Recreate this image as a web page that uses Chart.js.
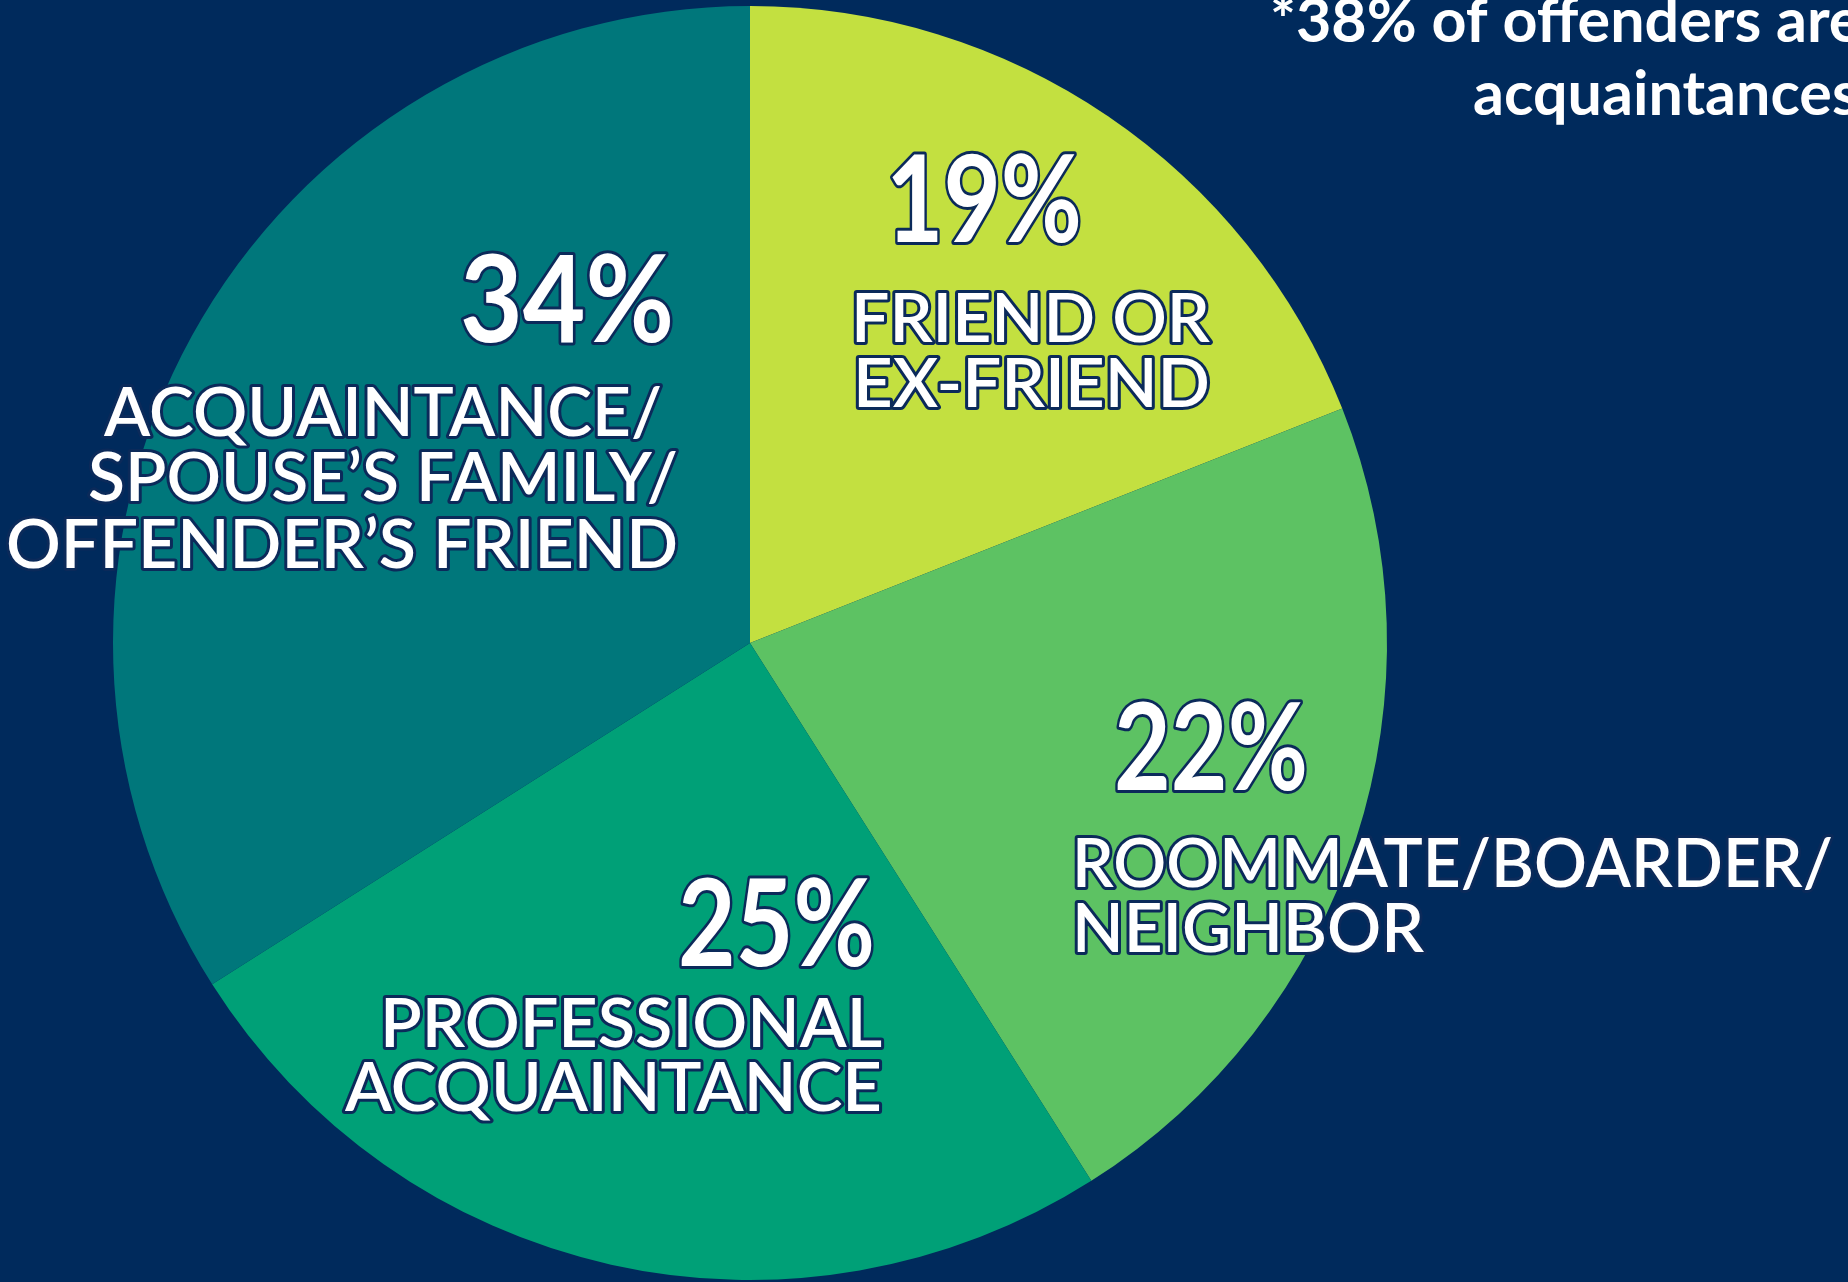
<!DOCTYPE html>
<html>
<head>
<meta charset="utf-8">
<script src="https://cdn.jsdelivr.net/npm/chart.js@4.4.1/dist/chart.umd.min.js"></script>
<style>
  html, body { margin: 0; padding: 0; background: #002a5c; }
  #wrap { width: 1848px; height: 1282px; position: relative; }
</style>
</head>
<body>
<div id="wrap"><canvas id="c" width="1848" height="1282"></canvas></div>
<script>
// ---- data ----
const categories = ['Friend or ex-friend', 'Roommate/boarder/neighbor', 'Professional acquaintance', "Acquaintance/spouse's family/offender's friend"];
const shares = [19, 22, 25, 34];
const sliceColors = ['#c3e040', '#5dc263', '#00a077', '#00777b'];
const categoryLines = [
  ['FRIEND OR', 'EX-FRIEND'],
  ['ROOMMATE/BOARDER/', 'NEIGHBOR'],
  ['PROFESSIONAL', 'ACQUAINTANCE'],
  ['ACQUAINTANCE/', 'SPOUSE\u2019S FAMILY/', 'OFFENDER\u2019S FRIEND']
];
const noteLines = ['*38% of offenders are', 'acquaintances'];

// ---- label layout, in a reference frame where the pie center is (750,643) and radius 637 ----
const REF = { cx: 750, cy: 643, r: 637 };
const pctBoxes = [
  { l: 886, r: 1082, b: 242 },
  { l: 1114, r: 1308, b: 790 },
  { l: 678, r: 875, b: 966 },
  { l: 460, r: 674, b: 342 }
];
const catBoxes = [
  [{ l: 851, r: 1210, b: 342 }, { l: 853, r: 1210, b: 407 }],
  [{ l: 1072, r: 1833, b: 887 }, { l: 1072, r: 1424, b: 952 }],
  [{ l: 380, r: 882, b: 1047 }, { l: 345, r: 882, b: 1111 }],
  [{ l: 104, r: 662, b: 436 }, { l: 88, r: 678, b: 501 }, { l: 6, r: 678, b: 568 }]
];

const labelPlugin = {
  id: 'labels',
  afterDatasetsDraw(chart) {
    const ctx = chart.ctx;
    const arc = chart.getDatasetMeta(0).data[0];
    const s = arc.outerRadius / REF.r;
    const X = v => arc.x + (v - REF.cx) * s;
    const Y = v => arc.y + (v - REF.cy) * s;
    ctx.textBaseline = 'alphabetic';
    ctx.textAlign = 'left';
    ctx.lineJoin = 'round';
    const draw = (txt, box, size, weight) => {
      ctx.save();
      ctx.font = `${weight} ${size * s}px Lato, "Open Sans", sans-serif`;
      const target = (box.r - box.l) * s;
      const natural = ctx.measureText(txt).width;
      const k = target / natural;
      ctx.translate(X(box.l), Y(box.b));
      ctx.scale(k, 1);
      ctx.strokeStyle = '#0b2a5a';
      ctx.lineWidth = 6 * s;
      ctx.strokeText(txt, 0, 0);
      ctx.fillStyle = '#ffffff';
      ctx.fillText(txt, 0, 0);
      ctx.restore();
    };
    shares.forEach((v, i) => {
      draw(v + '%', pctBoxes[i], 120, 700);
      categoryLines[i].forEach((line, j) => draw(line, catBoxes[i][j], 67, 600));
    });
  }
};

const notePlugin = {
  id: 'note',
  afterDraw(chart) {
    const ctx = chart.ctx;
    ctx.save();
    ctx.fillStyle = '#ffffff';
    ctx.font = 'bold 61px Lato, "Open Sans", sans-serif';
    ctx.textBaseline = 'alphabetic';
    ctx.textAlign = 'left';
    ctx.fillText(noteLines[0], 1270, 42);
    ctx.fillText(noteLines[1], 1473, 115);
    ctx.restore();
  }
};

new Chart(document.getElementById('c'), {
  type: 'pie',
  data: {
    labels: categories,
    datasets: [{
      data: shares,
      backgroundColor: sliceColors,
      borderWidth: 0,
      hoverOffset: 0
    }]
  },
  options: {
    responsive: false,
    animation: false,
    layout: { padding: { left: 113, right: 461, top: 6, bottom: 2 } },
    plugins: {
      legend: { display: false },
      tooltip: { enabled: false }
    }
  },
  plugins: [labelPlugin, notePlugin]
});
</script>
</body>
</html>
